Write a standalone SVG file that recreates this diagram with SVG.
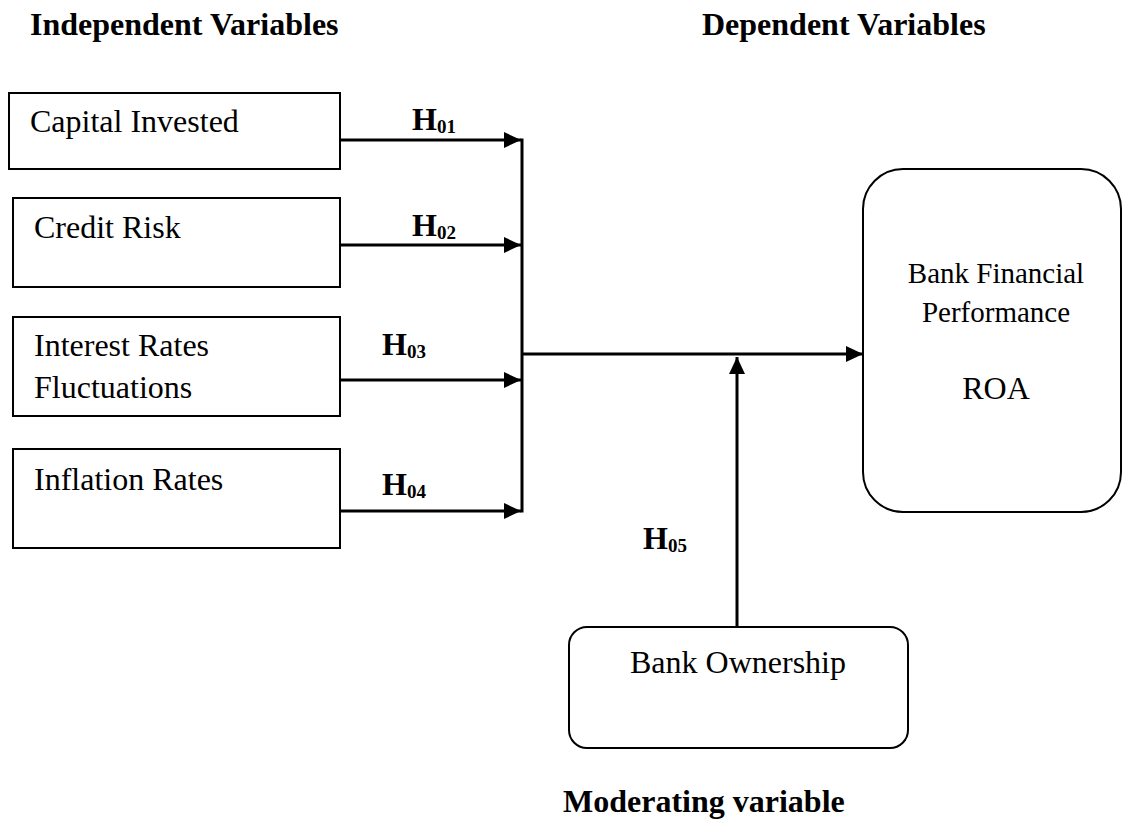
<svg xmlns="http://www.w3.org/2000/svg" width="1123" height="819" viewBox="0 0 1123 819">
<style>
text { font-family: "Liberation Serif", "Times New Roman", serif; fill: #000; }
.t { font-size: 32px; }
.s { font-size: 29px; }
.b { font-size: 32px; font-weight: bold; }
.sub { font-size: 19px; }
.box { fill: #fff; stroke: #000; stroke-width: 2; }
.c { fill: none; stroke: #000; stroke-width: 3; }
</style>
<defs>
<marker id="ah" markerUnits="userSpaceOnUse" markerWidth="18" markerHeight="17" refX="17" refY="8" orient="auto">
<path d="M0,0 L17,8 L0,16 z" fill="#000"/>
</marker>
</defs>
<rect width="1123" height="819" fill="#fff"/>
<g id="headings">
<text class="b" x="30" y="35">Independent Variables</text>
<text class="b" x="702" y="35">Dependent Variables</text>
<text class="b" x="563" y="812">Moderating variable</text>
</g>
<g id="capital-invested">
<rect class="box" x="9" y="93" width="331" height="76"/>
<text class="t" x="30" y="132">Capital Invested</text>
</g>
<g id="credit-risk">
<rect class="box" x="13" y="198" width="327" height="89"/>
<text class="t" x="34" y="238">Credit Risk</text>
</g>
<g id="interest-rates">
<rect class="box" x="13" y="317" width="327" height="99"/>
<text class="t" x="34" y="356">Interest Rates</text>
<text class="t" x="34" y="398">Fluctuations</text>
</g>
<g id="inflation-rates">
<rect class="box" x="13" y="449" width="327" height="99"/>
<text class="t" x="34" y="490">Inflation Rates</text>
</g>
<g id="bank-performance">
<rect class="box" x="863" y="169" width="258" height="343" rx="40" ry="40"/>
<text class="s" x="996" y="283" text-anchor="middle">Bank Financial</text>
<text class="s" x="996" y="322" text-anchor="middle">Performance</text>
<text class="t" x="996" y="399" text-anchor="middle">ROA</text>
</g>
<g id="bank-ownership">
<rect class="box" x="569" y="627" width="339" height="121" rx="18" ry="18"/>
<text class="t" x="738" y="673" text-anchor="middle">Bank Ownership</text>
</g>
<g id="connectors">
<line class="c" x1="340" y1="140" x2="521" y2="140" marker-end="url(#ah)"/>
<line class="c" x1="340" y1="245" x2="521" y2="245" marker-end="url(#ah)"/>
<line class="c" x1="340" y1="380" x2="521" y2="380" marker-end="url(#ah)"/>
<line class="c" x1="340" y1="511" x2="521" y2="511" marker-end="url(#ah)"/>
<line class="c" x1="522" y1="138.5" x2="522" y2="512.5"/>
<line class="c" x1="522" y1="354" x2="863" y2="354" marker-end="url(#ah)"/>
<line class="c" x1="737" y1="627" x2="737" y2="357" marker-end="url(#ah)"/>
</g>
<g id="labels">
<text class="b" x="412" y="130">H<tspan class="sub" dy="3">01</tspan></text>
<text class="b" x="412" y="236">H<tspan class="sub" dy="3">02</tspan></text>
<text class="b" x="382" y="355">H<tspan class="sub" dy="3">03</tspan></text>
<text class="b" x="382" y="495">H<tspan class="sub" dy="3">04</tspan></text>
<text class="b" x="643" y="549">H<tspan class="sub" dy="3">05</tspan></text>
</g>
</svg>
